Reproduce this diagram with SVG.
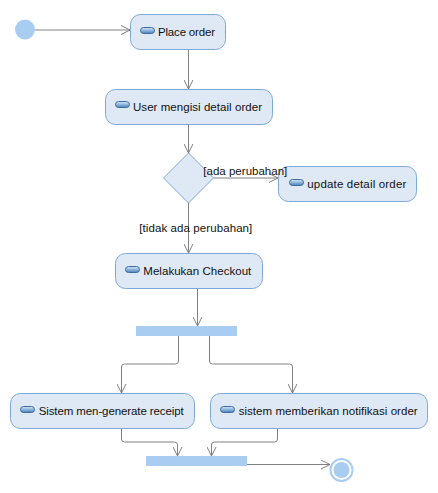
<svg xmlns="http://www.w3.org/2000/svg" width="438" height="493" viewBox="0 0 438 493">
<style>
.act{fill:#dfe9f5;stroke:#7ea8db;stroke-width:1}
.bar{fill:#a8cdf1}
.txt{font-family:"Liberation Sans",Arial,sans-serif;font-size:11.5px;fill:#111}
.con{fill:none;stroke:#808080;stroke-width:1}
.ico{fill:url(#ig);stroke:#3d6d9e;stroke-width:1}
</style>
<defs>
<linearGradient id="ig" x1="0" y1="0" x2="0" y2="1">
<stop offset="0" stop-color="#d6e8f8"/>
<stop offset="0.5" stop-color="#8fb6dd"/>
<stop offset="1" stop-color="#4a7fb5"/>
</linearGradient>
<marker id="arr" viewBox="0 0 10 10" markerWidth="10" markerHeight="10" refX="10" refY="5" orient="auto" markerUnits="userSpaceOnUse">
<path d="M1,0.5 L10,5 L1,9.5" fill="none" stroke="#808080" stroke-width="1"/>
</marker>
</defs>
<rect width="438" height="493" fill="#ffffff"/>
<g id="connectors">
<path class="con" d="M35,30 H130" marker-end="url(#arr)"/>
<path class="con" d="M188.5,50 V89" marker-end="url(#arr)"/>
<path class="con" d="M188.5,124 V153" marker-end="url(#arr)"/>
<path class="con" d="M213.5,178 H278" marker-end="url(#arr)"/>
<path class="con" d="M188.5,203 V253" marker-end="url(#arr)"/>
<path class="con" d="M197.5,289 V326" marker-end="url(#arr)"/>
<path class="con" d="M178.5,336 V361 Q178.5,364 175.5,364 H124.5 Q121.5,364 121.5,367 V393" marker-end="url(#arr)"/>
<path class="con" d="M209.5,336 V361 Q209.5,364 212.5,364 H289.5 Q292.5,364 292.5,367 V393" marker-end="url(#arr)"/>
<path class="con" d="M121.5,429 V439 Q121.5,442 124.5,442 H174.5 Q177.5,442 177.5,445 V456" marker-end="url(#arr)"/>
<path class="con" d="M277.5,429 V439 Q277.5,442 274.5,442 H214.5 Q211.5,442 211.5,445 V456" marker-end="url(#arr)"/>
<path class="con" d="M247,464.5 H330" marker-end="url(#arr)"/>
</g>
<g id="start"><circle cx="25" cy="29.5" r="10" fill="#a8cdf1"/></g>
<g id="place-order">
<rect class="act" x="130.5" y="14.5" width="95" height="35" rx="10"/>
<rect class="ico" x="140.5" y="27.5" width="14" height="6" rx="3"/>
<text class="txt" x="158" y="35.5" textLength="57" lengthAdjust="spacing">Place order</text>
</g>
<g id="user-detail">
<rect class="act" x="105.5" y="89.5" width="167" height="35" rx="10"/>
<rect class="ico" x="115.5" y="101.5" width="14" height="6" rx="3"/>
<text class="txt" x="133" y="110.5" textLength="129" lengthAdjust="spacing">User mengisi detail order</text>
</g>
<g id="decision">
<path d="M188.5,153 L213.5,178 L188.5,203 L163.5,178 Z" fill="#dfe9f5" stroke="#7ea8db"/>
</g>
<g id="update-detail">
<rect class="act" x="278.5" y="166.5" width="138" height="35" rx="10"/>
<rect class="ico" x="289.5" y="179.5" width="14" height="6" rx="3"/>
<text class="txt" x="307.3" y="187.5" textLength="99" lengthAdjust="spacing">update detail order</text>
</g>
<g id="checkout">
<rect class="act" x="115.5" y="253.5" width="147" height="35" rx="10"/>
<rect class="ico" x="125.5" y="266.5" width="14" height="6" rx="3"/>
<text class="txt" x="143.3" y="274.5" textLength="108" lengthAdjust="spacing">Melakukan Checkout</text>
</g>
<g id="fork"><rect class="bar" x="136" y="326" width="101" height="10"/></g>
<g id="receipt">
<rect class="act" x="10.5" y="393.5" width="184" height="35" rx="10"/>
<rect class="ico" x="20.5" y="406.5" width="14" height="6" rx="3"/>
<text class="txt" x="38.7" y="414.5" textLength="145" lengthAdjust="spacing">Sistem men-generate receipt</text>
</g>
<g id="notifikasi">
<rect class="act" x="210.5" y="393.5" width="217" height="35" rx="10"/>
<rect class="ico" x="220.5" y="406.5" width="14" height="6" rx="3"/>
<text class="txt" x="238.7" y="414.5" textLength="179" lengthAdjust="spacing">sistem memberikan notifikasi order</text>
</g>
<g id="join"><rect class="bar" x="146" y="456" width="101" height="10"/></g>
<g id="final">
<circle cx="341.5" cy="470" r="11" fill="#ffffff" stroke="#a8cdf1" stroke-width="2"/>
<circle cx="341.5" cy="470" r="8" fill="#a8cdf1"/>
</g>
<g id="guards">
<text class="txt" x="203.3" y="175" textLength="84" lengthAdjust="spacing">[ada perubahan]</text>
<text class="txt" x="139.3" y="232" textLength="113" lengthAdjust="spacing">[tidak ada perubahan]</text>
</g>
</svg>
